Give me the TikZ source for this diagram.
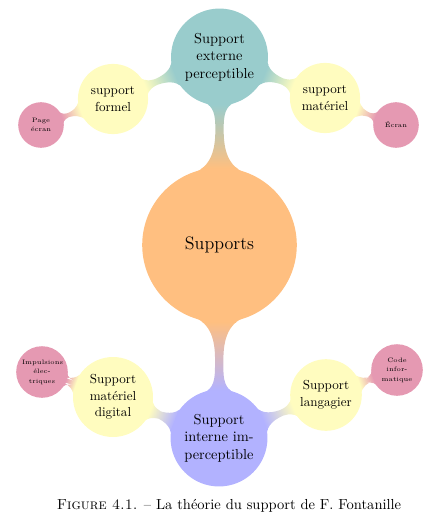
\documentclass[tikz,border=0pt]{standalone}
\usepackage{fontspec}
\usetikzlibrary{mindmap}
\definecolor{corange}{rgb}{1,0.75,0.5}
\definecolor{cteal}{rgb}{0.6,0.8,0.8}
\definecolor{cblue}{rgb}{0.7,0.7,1}
\definecolor{cyellow}{rgb}{1,0.99,0.75}
\definecolor{cpink}{rgb}{0.9,0.6,0.7}
\begin{document}
\begin{tikzpicture}[x=0.75pt,y=-0.75pt,
  cbase/.style={concept,circle,inner sep=0pt,align=center,text=black},
  rootc/.style={cbase,concept color=corange,minimum size=114.75pt,text width=100pt,font=\fontsize{13.5}{16}\selectfont},
  lonec/.style={cbase,minimum size=71.25pt,text width=62pt,font=\fontsize{10.8}{13}\selectfont},
  ltwoc/.style={cbase,concept color=cyellow,text width=48pt,font=\fontsize{9.8}{12.5}\selectfont},
  lthreec/.style={cbase,concept color=cpink,text width=30pt,font=\fontsize{4.8}{7.2}\selectfont},
  barA/.style={line width=7pt},
  barB/.style={line width=5pt},
]
\useasboundingbox (0,0) rectangle (439,521);
\begin{scope}[mindmap]
\node[rootc] (root) at (219.5,245) {Supports};
\node[lonec,concept color=cteal] (top) at (219.5,57) {Support\\externe\\perceptible};
\node[lonec,concept color=cblue] (bot) at (219,438) {Support\\interne im-\\perceptible};
\node[ltwoc,minimum size=51pt] (sf) at (113,99) {support\\formel};
\node[ltwoc,minimum size=51pt] (sm) at (325,98) {support\\matériel};
\node[ltwoc,minimum size=57pt] (smd) at (113,397) {Support\\matériel\\digital};
\node[ltwoc,minimum size=51pt] (sl) at (326,395) {Support\\langagier};
\node[lthreec,minimum size=33pt] (pe) at (41,125) {Page\\écran};
\node[lthreec,minimum size=33pt] (ec) at (396,125) {Écran};
\node[lthreec,minimum size=37.5pt] (imp) at (42,372) {Impulsions\\élec-\\triques};
\node[lthreec,minimum size=37.5pt] (code) at (397,370) {Code\\infor-\\matique};
\path[barA] (root) to[circle connection bar switch color=from (corange) to (cteal)] (top);
\path[barA] (root) to[circle connection bar switch color=from (corange) to (cblue)] (bot);
\path[barB] (top) to[circle connection bar switch color=from (cteal) to (cyellow)] (sf);
\path[barB] (top) to[circle connection bar switch color=from (cteal) to (cyellow)] (sm);
\path[barB] (bot) to[circle connection bar switch color=from (cblue) to (cyellow)] (smd);
\path[barB] (bot) to[circle connection bar switch color=from (cblue) to (cyellow)] (sl);
\path[barB] (sf) to[circle connection bar switch color=from (cyellow) to (cpink)] (pe);
\path[barB] (sm) to[circle connection bar switch color=from (cyellow) to (cpink)] (ec);
\path[barB] (smd) to[circle connection bar switch color=from (cyellow) to (cpink)] (imp);
\path[barB] (sl) to[circle connection bar switch color=from (cyellow) to (cpink)] (code);
\end{scope}
\node[font=\fontsize{10.9}{13}\selectfont,inner sep=0pt] (cap) at (229,506) {\textsc{Figure 4.1.} – La théorie du support de F. Fontanille};
\end{tikzpicture}
\end{document}
